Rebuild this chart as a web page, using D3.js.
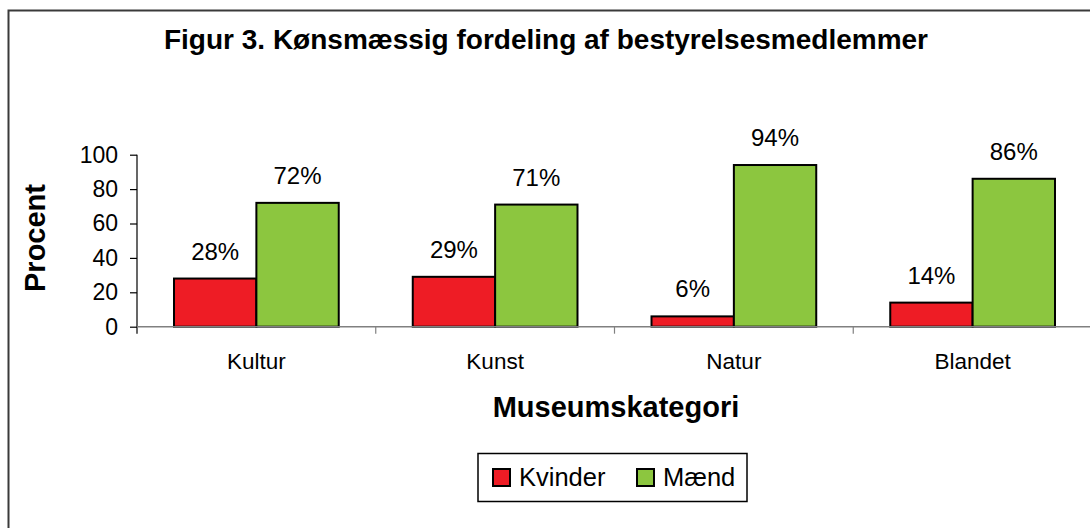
<!DOCTYPE html>
<html>
<head>
<meta charset="utf-8">
<script src="https://cdn.jsdelivr.net/npm/d3@7"></script>
<style>
  body { margin: 0; background: #fff; }
  text { font-family: "Liberation Sans", Arial, sans-serif; fill: #000; }
</style>
</head>
<body>
<div id="chart"></div>
<script>
// data
const categories = ["Kultur", "Kunst", "Natur", "Blandet"];
const series = ["Kvinder", "Mænd"];
const kvinder = [28, 29, 6, 14];
const maend = [72, 71, 94, 86];
const yTicks = [0, 20, 40, 60, 80, 100];
const colors = ["#ee1c25", "#8cc63f"];

const W = 1090, H = 528;
const plot = { left: 137, right: 1092, top: 154.7, bottom: 326.7 };

const svg = d3.select("#chart")
  .append("svg")
  .attr("width", W)
  .attr("height", H);

// outer frame (runs off the right and bottom edge like in the picture)
svg.append("rect")
  .attr("x", 8.5).attr("y", 10.5)
  .attr("width", 1100).attr("height", 540)
  .attr("fill", "#fff")
  .attr("stroke", "#3a3a3a")
  .attr("stroke-width", 2);

// title
svg.append("text")
  .attr("x", 546).attr("y", 49)
  .attr("text-anchor", "middle")
  .style("font-size", "28px")
  .style("font-weight", "bold")
  .text("Figur 3. Kønsmæssig fordeling af bestyrelsesmedlemmer");

// scales
const x0 = d3.scaleBand()
  .domain(categories)
  .range([plot.left, plot.right])
  .paddingInner(0.31)
  .paddingOuter(0.155);
const step = x0.step();

const x1 = d3.scaleBand()
  .domain(series)
  .range([0, x0.bandwidth()]);

const y = d3.scaleLinear()
  .domain([0, 100])
  .range([plot.bottom, plot.top]);

// y axis
const yAxis = svg.append("g")
  .attr("transform", `translate(${plot.left},0)`)
  .call(d3.axisLeft(y).tickValues(yTicks).tickSize(7).tickPadding(12));
yAxis.select(".domain").remove();
yAxis.selectAll("line").attr("stroke", "#000").attr("stroke-width", 1.2);
yAxis.selectAll("text").style("font-size", "23px");
svg.append("line")
  .attr("x1", plot.left).attr("x2", plot.left)
  .attr("y1", y(100)).attr("y2", y(0) + 7)
  .attr("stroke", "#000").attr("stroke-width", 1.2);

// x axis labels
const xAxis = svg.append("g")
  .attr("transform", `translate(0,${y(0)})`)
  .call(d3.axisBottom(x0).tickSize(0).tickPadding(26));
xAxis.select(".domain").remove();
xAxis.selectAll("text").style("font-size", "22.5px");

// bars
const groups = svg.selectAll(".grp")
  .data(categories)
  .join("g")
  .attr("class", "grp")
  .attr("transform", (d) => `translate(${x0(d)},0)`);

const rows = categories.map((c, i) => [
  { key: "Kvinder", value: kvinder[i] },
  { key: "Mænd", value: maend[i] }
]);

groups.selectAll("rect")
  .data((d, i) => rows[i])
  .join("rect")
  .attr("x", (d) => x1(d.key))
  .attr("y", (d) => y(d.value))
  .attr("width", x1.bandwidth())
  .attr("height", (d) => y(0) - y(d.value))
  .attr("fill", (d, i) => colors[i])
  .attr("stroke", "#000")
  .attr("stroke-width", 2);

groups.selectAll(".lbl")
  .data((d, i) => rows[i])
  .join("text")
  .attr("class", "lbl")
  .attr("x", (d) => x1(d.key) + x1.bandwidth() / 2)
  .attr("y", (d) => y(d.value) - 19)
  .attr("text-anchor", "middle")
  .style("font-size", "24px")
  .text((d) => d.value + "%");

// baseline and category dividers (gray)
svg.append("line")
  .attr("x1", plot.left).attr("x2", plot.right)
  .attr("y1", y(0)).attr("y2", y(0))
  .attr("stroke", "#808080").attr("stroke-width", 1.5);
svg.selectAll(".divider")
  .data(categories.slice(1))
  .join("line")
  .attr("class", "divider")
  .attr("x1", (d) => x0(d) - step * 0.155)
  .attr("x2", (d) => x0(d) - step * 0.155)
  .attr("y1", y(0)).attr("y2", y(0) + 7)
  .attr("stroke", "#808080").attr("stroke-width", 1.2);

// axis titles
svg.append("text")
  .attr("transform", "translate(45,238) rotate(-90)")
  .attr("text-anchor", "middle")
  .style("font-size", "29px")
  .style("font-weight", "bold")
  .text("Procent");

svg.append("text")
  .attr("x", 616).attr("y", 417)
  .attr("text-anchor", "middle")
  .style("font-size", "29px")
  .style("font-weight", "bold")
  .text("Museumskategori");

// legend
const legend = svg.append("g");
legend.append("rect")
  .attr("x", 478).attr("y", 453.5)
  .attr("width", 269).attr("height", 48)
  .attr("fill", "#fff")
  .attr("stroke", "#000")
  .attr("stroke-width", 1.5);
const legX = [493, 637];
series.forEach((s, i) => {
  legend.append("rect")
    .attr("x", legX[i]).attr("y", 469)
    .attr("width", 17).attr("height", 17)
    .attr("fill", colors[i])
    .attr("stroke", "#000")
    .attr("stroke-width", 2);
  legend.append("text")
    .attr("x", legX[i] + 26).attr("y", 486)
    .style("font-size", "25.5px")
    .text(s);
});
</script>
</body>
</html>
